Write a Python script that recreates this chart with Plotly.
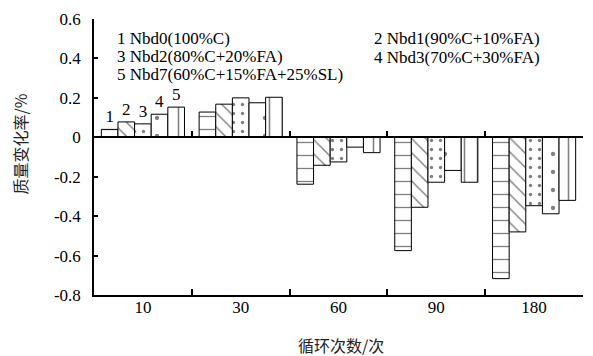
import plotly.graph_objects as go

categories = ["10", "30", "60", "90", "180"]
s1 = [0.040, 0.128, -0.238, -0.575, -0.717]
s2 = [0.078, 0.168, -0.142, -0.355, -0.480]
s3 = [0.068, 0.200, -0.125, -0.228, -0.347]
s4 = [0.117, 0.175, -0.050, -0.168, -0.388]
s5 = [0.153, 0.203, -0.078, -0.228, -0.320]
series = [s1, s2, s3, s4, s5]
bar_labels = ["1", "2", "3", "4", "5"]
legend_texts = ["1 Nbd0(100%C)", "2 Nbd1(90%C+10%FA)", "3 Nbd2(80%C+20%FA)",
                "4 Nbd3(70%C+30%FA)", "5 Nbd7(60%C+15%FA+25%SL)"]
ytick_vals = [0.6, 0.4, 0.2, 0, -0.2, -0.4, -0.6, -0.8]
ytick_text = ["0.6", "0.4", "0.2", "0", "-0.2", "-0.4", "-0.6", "-0.8"]

SERIF = "'Liberation Serif'"
CJK = "'Noto Sans CJK SC'"

patterns = [
    dict(shape="-", size=13, solidity=0.1),
    dict(shape="\\", size=10, solidity=0.14),
    dict(shape=".", size=9, solidity=0.11),
    dict(shape=".", size=18, solidity=0.045),
    dict(shape="|", size=13, solidity=0.12),
]

fig = go.Figure()
for vals, lab, pat in zip(series, bar_labels, patterns):
    texts = [lab] + [""] * (len(categories) - 1)
    fig.add_trace(go.Bar(
        x=categories, y=vals, text=texts, textposition="outside",
        textfont=dict(family=SERIF, size=17, color="black"),
        outsidetextfont=dict(family=SERIF, size=17, color="black"),
        cliponaxis=False,
        marker=dict(color="white", line=dict(color="black", width=1),
                    pattern=dict(fgcolor="black", bgcolor="white", fillmode="overlay", **pat)),
        showlegend=False,
    ))

# helper axis for ticks along the zero line
fig.add_trace(go.Scatter(x=categories, y=[0] * len(categories), xaxis="x2", mode="none",
                         showlegend=False, hoverinfo="skip"))

fig.update_layout(
    width=593, height=356,
    margin=dict(l=94, r=10, t=15, b=61),
    paper_bgcolor="white", plot_bgcolor="white",
    barmode="group", bargap=0.15, bargroupgap=0,
    font=dict(family=SERIF, size=17, color="black"),
    xaxis=dict(type="category", categoryarray=categories, range=[-0.5, 4.5],
               showline=True, linecolor="black", linewidth=1.5,
               ticks="inside", tickson="boundaries", ticklen=6, tickcolor="black", tickwidth=1.5,
               showgrid=False, tickfont=dict(family=SERIF, size=17), ticklabelstandoff=-4),
    xaxis2=dict(type="category", categoryarray=categories, range=[-0.5, 4.5],
                overlaying="x", anchor="free", position=(0 - (-0.8)) / 1.4,
                showline=True, linecolor="black", linewidth=1.5,
                ticks="inside", tickson="boundaries", ticklen=6, tickcolor="black", tickwidth=1.5,
                showticklabels=False, showgrid=False),
    yaxis=dict(range=[-0.8, 0.6], tickvals=ytick_vals, ticktext=ytick_text,
               showline=True, linecolor="black", linewidth=1.5,
               ticks="inside", ticklen=4, tickcolor="black", tickwidth=1.5,
               showgrid=False, zeroline=False, tickfont=dict(family=SERIF, size=17),
               ticklabelstandoff=8),
)

# legend as text (pixel rows converted to paper fractions)
leg_pos = [(0.043, 0.9304), (0.5685, 0.9286), (0.043, 0.8643), (0.5685, 0.8607), (0.043, 0.8)]
for t, (px, py) in zip(legend_texts, leg_pos):
    fig.add_annotation(text=t, x=px, y=py, xref="paper", yref="paper",
                       xanchor="left", yanchor="middle", showarrow=False,
                       font=dict(family=SERIF, size=17, color="black"))

fig.add_annotation(text="质量变化率/%", x=-0.151, y=0.546, xref="paper", yref="paper",
                   textangle=-90, showarrow=False, xanchor="center", yanchor="middle",
                   font=dict(family=CJK, size=16, color="#222"))
fig.add_annotation(text="循环次数/次", x=0.505, y=-0.182, xref="paper", yref="paper",
                   showarrow=False, xanchor="center", yanchor="middle",
                   font=dict(family=CJK, size=16, color="#222"))

fig.write_html("out.html")
